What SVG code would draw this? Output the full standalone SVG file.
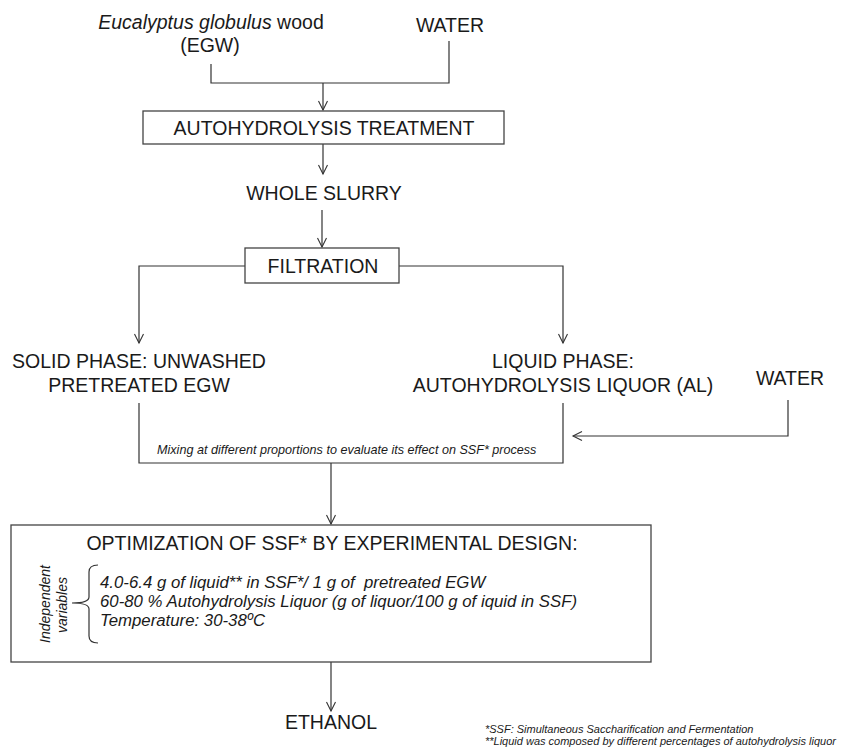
<svg xmlns="http://www.w3.org/2000/svg" width="843" height="747" viewBox="0 0 843 747">
<style>
text{font-family:"Liberation Sans",Arial,sans-serif;fill:#1a1a1a}
.t{font-size:19.5px}
.c{text-anchor:middle}
.i{font-style:italic}
.box{fill:#fff;stroke:#444;stroke-width:1.3}
.ln{fill:none;stroke:#333;stroke-width:1.2}
</style>
<defs>
<marker id="ah" viewBox="-10 -6 12 12" refX="0" refY="0" markerWidth="12" markerHeight="12" markerUnits="userSpaceOnUse" orient="auto">
<path d="M-9,-4.5 L0,0 L-9,4.5" fill="none" stroke="#333" stroke-width="1.1"/>
</marker>
</defs>
<rect width="843" height="747" fill="#fff"/>

<g id="connectors">
<path class="ln" d="M211,64 V83 H449 V41"/>
<path class="ln" d="M323,83 V110" stroke-width="1.6" marker-end="url(#ah)"/>
<path class="ln" d="M323,144 V174" marker-end="url(#ah)"/>
<path class="ln" d="M322,210 V247" marker-end="url(#ah)"/>
<path class="ln" d="M245,266 H139 V343" marker-end="url(#ah)"/>
<path class="ln" d="M399,266 H563 V343" marker-end="url(#ah)"/>
<path class="ln" d="M139,403 V463 H563 V403"/>
<path class="ln" d="M788,400 V436 H573" marker-end="url(#ah)"/>
<path class="ln" d="M331,463 V524" marker-end="url(#ah)"/>
<path class="ln" d="M331,662 V711" marker-end="url(#ah)"/>
</g>

<g id="egw">
<text class="t c" x="211" y="29"><tspan class="i">Eucalyptus globulus</tspan> wood</text>
<text class="t c" x="210" y="52">(EGW)</text>
</g>
<g id="water1"><text class="t c" x="450" y="32">WATER</text></g>

<g id="autohydrolysis">
<rect class="box" x="143" y="111" width="361" height="33"/>
<text class="t c" x="324" y="135">AUTOHYDROLYSIS TREATMENT</text>
</g>

<g id="slurry"><text class="t c" x="324" y="200">WHOLE SLURRY</text></g>

<g id="filtration">
<rect class="box" x="245" y="248" width="154" height="35"/>
<text class="t c" x="323" y="273">FILTRATION</text>
</g>

<g id="solid">
<text class="t c" x="139" y="368">SOLID PHASE: UNWASHED</text>
<text class="t c" x="139" y="392">PRETREATED EGW</text>
</g>

<g id="liquid">
<text class="t c" x="563" y="368">LIQUID PHASE:</text>
<text class="t c" x="563" y="392">AUTOHYDROLYSIS LIQUOR (AL)</text>
</g>

<g id="water2"><text class="t c" x="790" y="385">WATER</text></g>

<g id="mixing"><text class="i" x="157" y="454" font-size="12.6">Mixing at different proportions to evaluate its effect on SSF* process</text></g>

<g id="optimization">
<rect class="box" x="11" y="525" width="640" height="137"/>
<text class="t c" x="332" y="550">OPTIMIZATION OF SSF* BY EXPERIMENTAL DESIGN:</text>
<text class="i" x="46" y="604" font-size="14" text-anchor="middle" transform="rotate(-90 50 604)" dx="4" dy="0">Independent</text>
<text class="i" x="67" y="605" font-size="14" text-anchor="middle" transform="rotate(-90 67 605)">variables</text>
<path class="ln" d="M98,565 Q89,565 89,572 V597 Q89,603 72,603 Q89,603 89,609 V636 Q89,643 98,643"/>
<text class="i" x="100" y="588" font-size="16.8" style="white-space:pre">4.0-6.4 g of liquid** in SSF*/ 1 g of  pretreated EGW</text>
<text class="i" x="100" y="607" font-size="16.8">60-80 % Autohydrolysis Liquor (g of liquor/100 g of iquid in SSF)</text>
<text class="i" x="100" y="626" font-size="16.8">Temperature: 30-38ºC</text>
</g>

<g id="ethanol"><text class="t c" x="331" y="729">ETHANOL</text></g>

<g id="footnotes">
<text class="i" x="485" y="733" font-size="11">*SSF: Simultaneous Saccharification and Fermentation</text>
<text class="i" x="485" y="745" font-size="11">**Liquid was composed by different percentages of autohydrolysis liquor</text>
</g>
</svg>
